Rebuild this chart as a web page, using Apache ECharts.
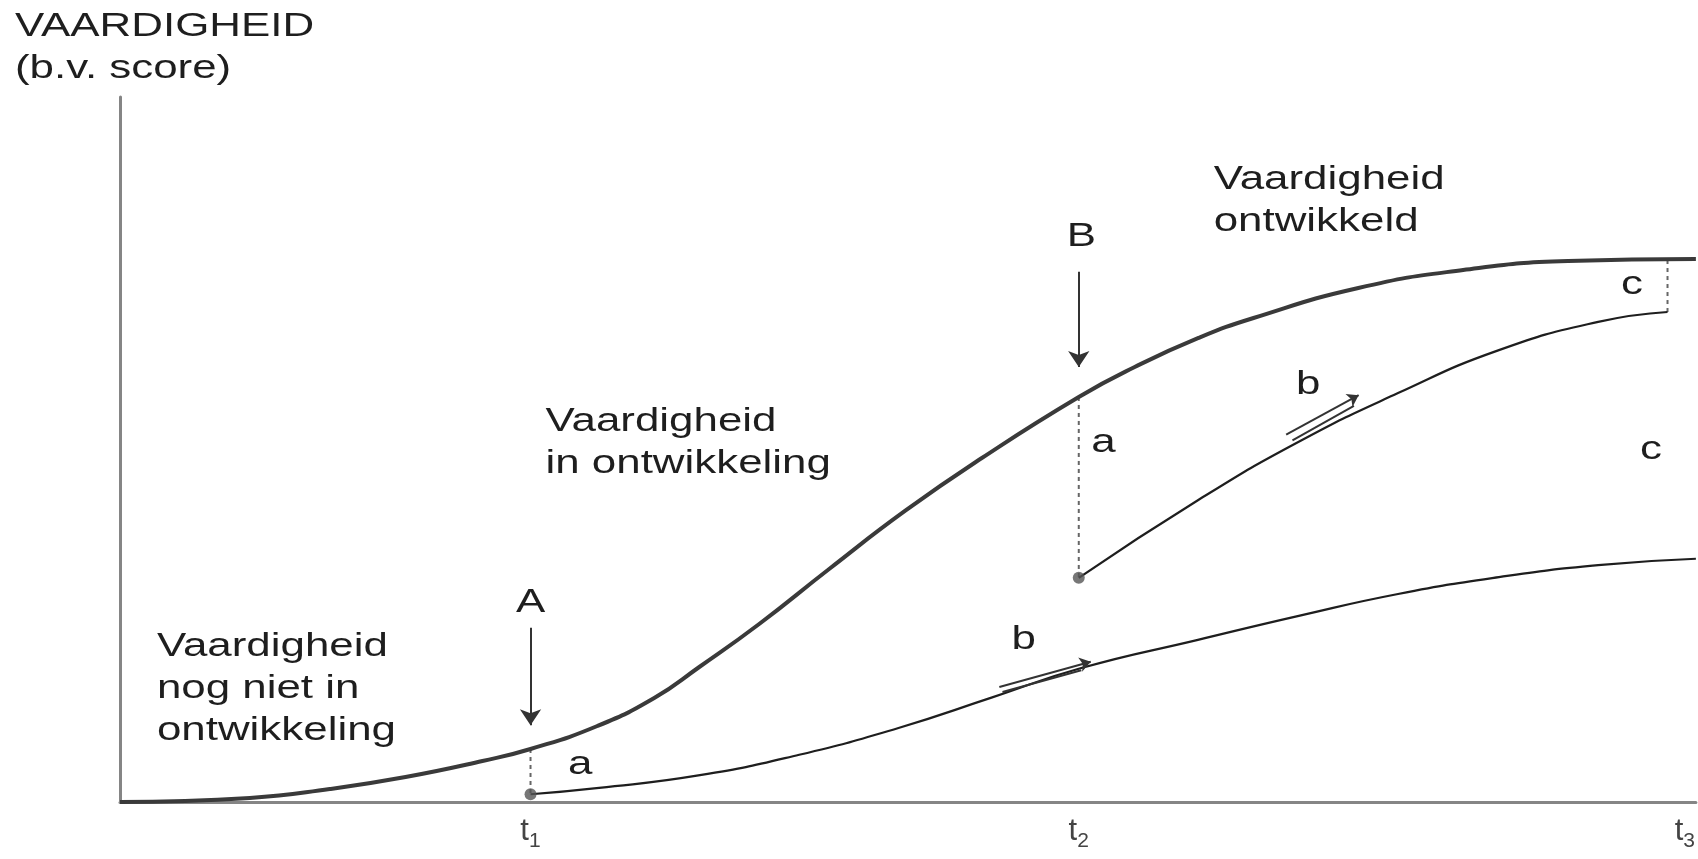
<!DOCTYPE html>
<html>
<head>
<meta charset="utf-8">
<script src="https://cdn.jsdelivr.net/npm/echarts@6/dist/echarts.min.js"></script>
<style>
html,body{margin:0;padding:0;background:#fff;}
#c{width:1698px;height:859px;}
</style>
</head>
<body>
<div id="c"></div>
<script>
// ---- data (x: time in arbitrary units 0-100, y: skill score 0-100) ----
const mainCurve = [
  [0, 0], [8.24, 0.57], [13.31, 1.84], [18.12, 3.55], [23.0, 5.82], [26.05, 7.52],
  [30.29, 10.78], [33.9, 14.75], [36.76, 19.15], [40.56, 25.25], [45.0, 33.05],
  [49.81, 41.28], [54.69, 48.79], [60.84, 57.45], [64.39, 61.7], [68.44, 65.82],
  [71.93, 68.65], [78.58, 72.91], [85.23, 75.46], [91.89, 76.74], [100, 77.02]
];
const lowerCurve = [
  [26.05, 1.1], [30.4, 2.0], [36.8, 3.8], [43.1, 6.7], [49.4, 10.5], [55.3, 14.8],
  [61.0, 19.0], [68.4, 23.0], [74.8, 26.4], [81.1, 29.5], [87.5, 31.9], [93.8, 33.6], [100, 34.5]
];
const branchCurve = [
  [60.84, 31.8], [68.4, 42.8], [74.8, 51.1], [81.1, 58.0], [87.5, 64.1], [93.8, 68.1], [98.2, 69.5]
];
const branchGap = [[98.2, 69.5], [98.2, 76.9]];
const dropLineA = [[26.05, 7.52], [26.05, 1.1]];
const dropLineB = [[60.84, 57.45], [60.84, 31.8]];
const startPoints = [[26.05, 1.1], [60.84, 31.8]];
const arrowA = [[26.05, 24.7], [26.05, 10.9]];
const arrowB = [[60.84, 75.2], [60.84, 61.7]];
const arrowLowerB = [[55.8, 16.3], [61.6, 19.9]];
const arrowLowerB2 = [[56.0, 15.6], [61.0, 18.7]];
const arrowUpperB = [[74.0, 52.1], [78.6, 57.7]];
const arrowUpperB2 = [[74.4, 51.3], [78.3, 56.2]];
const tickValues = [26.05, 60.84, 99.3];
const tickSubs = ['1', '2', '3'];
const axisTitle = 'VAARDIGHEID\n(b.v. score)';
const blockNotes = [
  { x: 2.34, y: 24.96, text: 'Vaardigheid\nnog niet in\nontwikkeling' },
  { x: 27.0, y: 56.9, text: 'Vaardigheid\nin ontwikkeling' },
  { x: 69.4, y: 91.2, text: 'Vaardigheid\nontwikkeld' }
];
const letterNotes = [
  { x: 26.05, y: 28.2, text: 'A' }, { x: 61.0, y: 80.1, text: 'B' },
  { x: 29.2, y: 5.25, text: 'a' }, { x: 62.4, y: 50.9, text: 'a' },
  { x: 57.35, y: 23.0, text: 'b' }, { x: 75.4, y: 59.15, text: 'b' },
  { x: 95.94, y: 73.3, text: 'c' }, { x: 97.15, y: 49.9, text: 'c' }
];

// ---- chart ----
const FONT = '"Liberation Sans", Arial, sans-serif';
const INK = '#1e1e1e';
const chart = echarts.init(document.getElementById('c'));

function arrowSeries(coords, size, head) {
  return {
    type: 'lines', coordinateSystem: 'cartesian2d', silent: true,
    symbol: ['none', head ? 'arrow' : 'none'], symbolSize: size,
    lineStyle: { color: '#333', width: 2, opacity: 1 },
    data: [{ coords: coords }], z: 5
  };
}
function dotted(data) {
  return {
    type: 'line', data: data, symbol: 'none', silent: true,
    lineStyle: { color: '#666', width: 2, type: [4, 4] }, z: 3
  };
}

chart.setOption({
  animation: false,
  backgroundColor: '#fff',
  grid: { left: 120, right: 0, top: 97, bottom: 57, containLabel: false },
  xAxis: {
    type: 'value', min: 0, max: 100,
    axisLine: { show: true, lineStyle: { color: '#858585', width: 3 } },
    axisTick: { show: false }, splitLine: { show: false },
    axisLabel: {
      customValues: tickValues, margin: 14,
      formatter: function (v) {
        const i = tickValues.indexOf(v);
        return '{t|t}{s|' + (i >= 0 ? tickSubs[i] : '') + '}';
      },
      rich: {
        t: { fontFamily: FONT, fontSize: 31, color: '#444', verticalAlign: 'top', lineHeight: 36 },
        s: { fontFamily: FONT, fontSize: 21, color: '#444', verticalAlign: 'bottom', lineHeight: 36, padding: [14, 0, 0, 0] }
      }
    }
  },
  yAxis: {
    type: 'value', min: 0, max: 100,
    axisLine: { show: true, lineStyle: { color: '#858585', width: 3 } },
    axisTick: { show: false }, splitLine: { show: false }, axisLabel: { show: false }
  },
  series: [
    { type: 'line', data: mainCurve, smooth: 0.5, symbol: 'none', silent: true,
      lineStyle: { color: '#3a3a3a', width: 4 }, z: 4 },
    { type: 'line', data: lowerCurve, smooth: 0.5, symbol: 'none', silent: true,
      lineStyle: { color: INK, width: 2.2 }, z: 4 },
    { type: 'line', data: branchCurve, smooth: 0.5, symbol: 'none', silent: true,
      lineStyle: { color: INK, width: 2.2 }, z: 4 },
    dotted(branchGap), dotted(dropLineA), dotted(dropLineB),
    { type: 'scatter', data: startPoints, symbol: 'circle', symbolSize: 12, silent: true,
      itemStyle: { color: '#555' }, z: 6 },
    arrowSeries(arrowA, 16, true), arrowSeries(arrowB, 16, true),
    arrowSeries(arrowLowerB, 11, true), arrowSeries(arrowUpperB, 11, true),
    arrowSeries(arrowLowerB2, 0, false), arrowSeries(arrowUpperB2, 0, false)
  ]
});

const SX = 1.33;
function txt(p, text, align, vAlign) {
  return {
    type: 'text', x: p[0], y: p[1], scaleX: SX, silent: true, z: 10,
    style: { text: text, font: '33px ' + FONT, fill: INK, align: align, verticalAlign: vAlign, lineHeight: 42 }
  };
}
const px = (x, y) => chart.convertToPixel({ gridIndex: 0 }, [x, y]);
const elements = [];
elements.push(txt([15, 6], axisTitle, 'left', 'top'));
blockNotes.forEach(n => elements.push(txt(px(n.x, n.y), n.text, 'left', 'top')));
letterNotes.forEach(n => elements.push(txt(px(n.x, n.y), n.text, 'center', 'middle')));
chart.setOption({ graphic: { elements: elements } });
</script>
</body>
</html>
